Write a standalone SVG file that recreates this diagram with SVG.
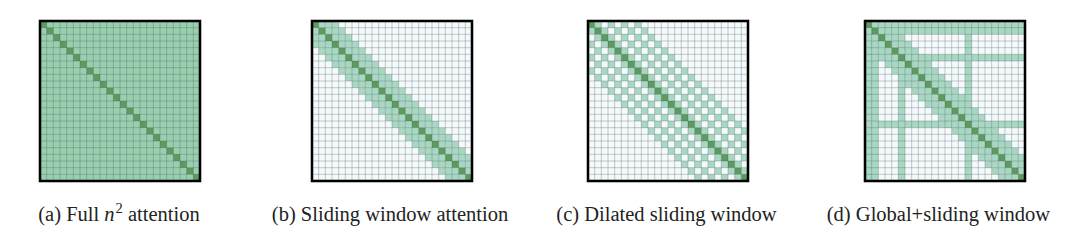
<svg xmlns="http://www.w3.org/2000/svg" xmlns:xlink="http://www.w3.org/1999/xlink" width="1080" height="241" viewBox="0 0 1080 241">
<style>
.bg{fill:#f4f9fb}
.full{fill:#98cfaf}
.lt{fill:#a8d8c3}
.dk{fill:#5b9b5d}
.grid{fill:none;stroke:#4d5a56;stroke-opacity:0.45;stroke-width:0.1}
.frame{fill:none;stroke:#000;stroke-width:0.38}
.cap{font-family:"Liberation Serif","Times New Roman",serif;font-size:20.5px;fill:#222;text-anchor:middle}
</style>
<defs>
<clipPath id="sq"><rect x="0" y="0" width="24" height="24"/></clipPath>
<path id="diag" d="M0 0h1v1h-1z m1 1h1v1h-1z m1 1h1v1h-1z m1 1h1v1h-1z m1 1h1v1h-1z m1 1h1v1h-1z m1 1h1v1h-1z m1 1h1v1h-1z m1 1h1v1h-1z m1 1h1v1h-1z m1 1h1v1h-1z m1 1h1v1h-1z m1 1h1v1h-1z m1 1h1v1h-1z m1 1h1v1h-1z m1 1h1v1h-1z m1 1h1v1h-1z m1 1h1v1h-1z m1 1h1v1h-1z m1 1h1v1h-1z m1 1h1v1h-1z m1 1h1v1h-1z m1 1h1v1h-1z m1 1h1v1h-1z"/>
<path id="grid" class="grid" d="M0 1H24M0 2H24M0 3H24M0 4H24M0 5H24M0 6H24M0 7H24M0 8H24M0 9H24M0 10H24M0 11H24M0 12H24M0 13H24M0 14H24M0 15H24M0 16H24M0 17H24M0 18H24M0 19H24M0 20H24M0 21H24M0 22H24M0 23H24M1 0V24M2 0V24M3 0V24M4 0V24M5 0V24M6 0V24M7 0V24M8 0V24M9 0V24M10 0V24M11 0V24M12 0V24M13 0V24M14 0V24M15 0V24M16 0V24M17 0V24M18 0V24M19 0V24M20 0V24M21 0V24M22 0V24M23 0V24"/>
<g id="band">
<use xlink:href="#diag" href="#diag" x="-3"/><use xlink:href="#diag" href="#diag" x="-2"/><use xlink:href="#diag" href="#diag" x="-1"/><use xlink:href="#diag" href="#diag" x="1"/><use xlink:href="#diag" href="#diag" x="2"/><use xlink:href="#diag" href="#diag" x="3"/>
</g>
</defs>

<g id="panel-a" transform="translate(40,21) scale(6.6667)">
<rect class="full" x="0" y="0" width="24" height="24"/>
<use class="dk" xlink:href="#diag" href="#diag"/>
<use xlink:href="#grid" href="#grid"/>
<rect class="frame" x="0" y="0" width="24" height="24"/>
</g>

<g id="panel-b" transform="translate(312,21) scale(6.6667)">
<rect class="bg" x="0" y="0" width="24" height="24"/>
<g clip-path="url(#sq)" class="lt"><use xlink:href="#band" href="#band"/></g>
<use class="dk" xlink:href="#diag" href="#diag"/>
<use xlink:href="#grid" href="#grid"/>
<rect class="frame" x="0" y="0" width="24" height="24"/>
</g>

<g id="panel-c" transform="translate(588,21) scale(6.6667)">
<rect class="bg" x="0" y="0" width="24" height="24"/>
<g clip-path="url(#sq)" class="lt">
<use xlink:href="#diag" href="#diag" x="-7"/><use xlink:href="#diag" href="#diag" x="-5"/><use xlink:href="#diag" href="#diag" x="-3"/><use xlink:href="#diag" href="#diag" x="-1"/><use xlink:href="#diag" href="#diag" x="1"/><use xlink:href="#diag" href="#diag" x="3"/><use xlink:href="#diag" href="#diag" x="5"/><use xlink:href="#diag" href="#diag" x="7"/>
</g>
<use class="dk" xlink:href="#diag" href="#diag"/>
<use xlink:href="#grid" href="#grid"/>
<rect class="frame" x="0" y="0" width="24" height="24"/>
</g>

<g id="panel-d" transform="translate(865,21) scale(6.6667)">
<rect class="bg" x="0" y="0" width="24" height="24"/>
<g clip-path="url(#sq)" class="lt">
<use xlink:href="#band" href="#band"/>
<rect x="0" y="0" width="2" height="24"/>
<rect x="5" y="0" width="1" height="24"/>
<rect x="15" y="0" width="1" height="24"/>
<rect x="0" y="0" width="24" height="2"/>
<rect x="0" y="5" width="24" height="1"/>
<rect x="0" y="15" width="24" height="1"/>
</g>
<use class="dk" xlink:href="#diag" href="#diag"/>
<use xlink:href="#grid" href="#grid"/>
<rect class="frame" x="0" y="0" width="24" height="24"/>
</g>

<g id="captions">
<text class="cap" x="119" y="221">(a) Full <tspan font-style="italic">n</tspan><tspan dx="1" dy="-8" font-size="14.5">2</tspan><tspan dy="8"> attention</tspan></text>
<text class="cap" x="390" y="221">(b) Sliding window attention</text>
<text class="cap" x="666.5" y="221">(c) Dilated sliding window</text>
<text class="cap" x="938.5" y="221">(d) Global+sliding window</text>
</g>
</svg>
